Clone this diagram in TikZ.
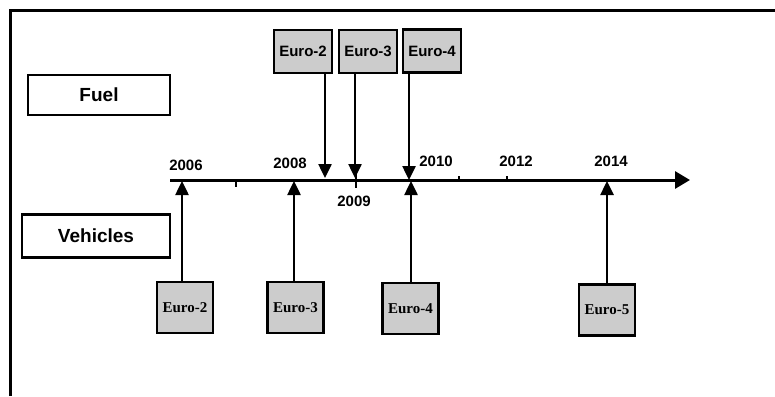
\documentclass[tikz,border=0pt]{standalone}
\usepackage{fontspec}
\setmainfont{Liberation Serif}
\setsansfont{Liberation Sans}
\usetikzlibrary{arrows.meta}
\tikzset{
  labelbox/.style={draw,line width=2.5pt,fill=white,minimum width=142pt,minimum height=40pt,font=\sffamily\bfseries\fontsize{19}{19}\selectfont},
  fuelbox/.style={draw,line width=2.5pt,fill=gray!40,minimum width=58pt,minimum height=43pt,inner sep=0pt,font=\sffamily\bfseries\fontsize{15}{15}\selectfont},
  carbox/.style={draw,line width=2.5pt,fill=gray!40,minimum width=56pt,minimum height=51pt,inner sep=0pt,font=\bfseries\fontsize{15}{15}\selectfont},
  year/.style={font=\sffamily\bfseries\fontsize{15}{15}\selectfont},
  pointer/.style={line width=2.5pt,-{Triangle[length=14pt,width=13pt]}}
}
\begin{document}
\begin{tikzpicture}[x=1pt,y=-1pt]
        \useasboundingbox (0,0) rectangle (775,396);
        \draw [line width=3pt](10,396)--(10,11)--(775,11);
        \node [labelbox] (fuel) at (99,95) {Fuel};
        \node [labelbox,minimum width=148pt,minimum height=43pt] (vehicles) at (96,236) {Vehicles};
        % time axis
        \coordinate (start) at (170,180);
        \coordinate (end) at (690,180);
        \draw [line width=3pt,-{Triangle[length=15pt,width=17pt]}] (start)--(end);
        \draw [line width=2pt] (236,180)--(236,187);
        \draw [line width=2pt] (356,174)--(356,188);
        \foreach \x in {459,507}
          \draw [line width=2pt] (\x,176)--(\x,180);
        \node [year] (y2006) at (186,165) {2006};
        \node [year] (y2008) at (290,163) {2008};
        \node [year] (y2009) at (354,201) {2009};
        \node [year] (y2010) at (436,161) {2010};
        \node [year] (y2012) at (516,161) {2012};
        \node [year] (y2014) at (611,161) {2014};
        % fuel norms
        \node [fuelbox] (f2) at (303,51.5) {Euro-2};
        \node [fuelbox] (f3) at (368,51.5) {Euro-3};
        \node [fuelbox] (f4) at (432,51) {Euro-4};
        \coordinate (ft2) at (325,178);
        \coordinate (ft3) at (355,178);
        \coordinate (ft4) at (409,180);
        \draw [pointer] (f2.south -| ft2)--(ft2);
        \draw [pointer] (f3.south -| ft3)--(ft3);
        \draw [pointer] (f4.south -| ft4)--(ft4);
        % vehicle norms
        \node [carbox] (c2) at (185,307.5) {Euro-2};
        \node [carbox] (c3) at (295.5,307.5) {Euro-3};
        \node [carbox] (c4) at (410.5,308.5) {Euro-4};
        \node [carbox] (c5) at (607,310) {Euro-5};
        \coordinate (vt2) at (182,181);
        \coordinate (vt3) at (294,181);
        \coordinate (vt4) at (411,181);
        \coordinate (vt5) at (607,181);
        \draw [pointer] (c2.north -| vt2)--(vt2);
        \draw [pointer] (c3.north -| vt3)--(vt3);
        \draw [pointer] (c4.north -| vt4)--(vt4);
        \draw [pointer] (c5.north -| vt5)--(vt5);
      \end{tikzpicture}
\end{document}
